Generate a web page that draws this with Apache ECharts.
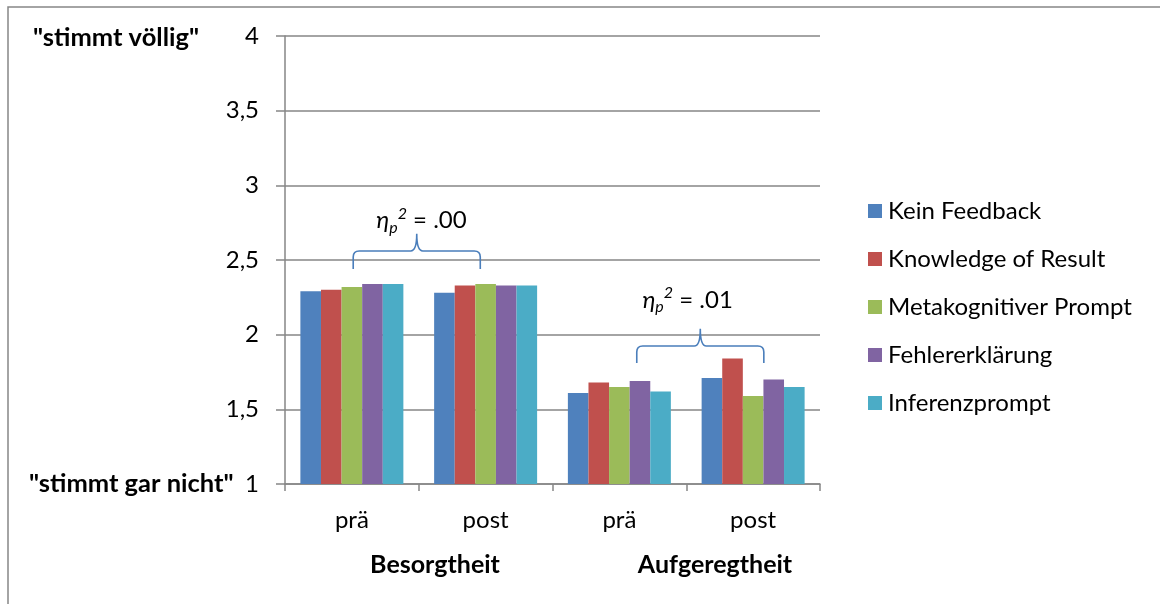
<!DOCTYPE html>
<html>
<head>
<meta charset="utf-8">
<script src="https://cdn.jsdelivr.net/npm/echarts@6/dist/echarts.min.js"></script>
<style>
  html, body { margin: 0; padding: 0; background: #fff; }
  #chart { width: 1160px; height: 604px; }
</style>
</head>
<body>
<div id="chart"></div>
<script>
// Time points within each scale, and the two scales they belong to
const categories = ['prä', 'post', 'prä', 'post'];
const groupNames = ['Besorgtheit', 'Aufgeregtheit'];

// Feedback conditions
const seriesNames = ['Kein Feedback', 'Knowledge of Result', 'Metakognitiver Prompt', 'Fehlererklärung', 'Inferenzprompt'];

// Mean ratings per condition (Besorgtheit prä, post, Aufgeregtheit prä, post)
const keinFeedback         = [2.29, 2.28, 1.61, 1.71];
const knowledgeOfResult    = [2.30, 2.33, 1.68, 1.84];
const metakognitiverPrompt = [2.32, 2.34, 1.65, 1.59];
const fehlererklaerung     = [2.34, 2.33, 1.69, 1.70];
const inferenzprompt       = [2.34, 2.33, 1.62, 1.65];

// Rating scale
const yMin = 1, yMax = 4, yStep = 0.5;
const scaleTop = '"stimmt völlig"';
const scaleBottom = '"stimmt gar nicht"';

// Effect-size braces (x in category units, y in rating units)
const braceFrom   = [0.01, 2.13];
const braceTo     = [0.96, 3.08];
const braceEnd    = [2.44, 1.81];
const braceBar    = [2.56, 1.924];
const braceTip    = [2.675, 2.04];
const braceLabelX = [0.52, 2.51];
const braceLabelY = [2.765, 2.23];
const effectSizes = ['.00', '.01'];

const colors = ['#4F81BD', '#C0504D', '#9BBB59', '#8064A2', '#4BACC6'];
const seriesValues = [keinFeedback, knowledgeOfResult, metakognitiverPrompt, fehlererklaerung, inferenzprompt];
const FONT = 'Lato';
const AXIS_GREY = '#868686';

const chart = echarts.init(document.getElementById('chart'), null, { renderer: 'canvas' });

const barSeries = seriesNames.map((name, i) => ({
  name,
  type: 'bar',
  data: seriesValues[i],
  barGap: '0%',
  barCategoryGap: '23%',
  itemStyle: { color: colors[i] },
  emphasis: { disabled: true }
}));

const braceData = braceFrom.map((f, i) => [f, braceTo[i], braceEnd[i], braceBar[i], braceTip[i], braceLabelX[i], braceLabelY[i], i]);

const braceSeries = {
  type: 'custom',
  name: 'braces',
  silent: true,
  clip: false,
  z: 5,
  data: braceData,
  renderItem(params, api) {
    const band = api.size([1, 0])[0];
    // fractional category position -> pixel x
    const px = v => {
      const k = Math.floor(v);
      return api.coord([k, yMin])[0] + (v - k) * band;
    };
    const py = v => api.coord([0, v])[1];
    const x0 = px(api.value(0)), x1 = px(api.value(1));
    const yEnd = py(api.value(2)), yBar = py(api.value(3)), yTip = py(api.value(4));
    const xl = px(api.value(5)), yl = py(api.value(6));
    const idx = api.value(7);
    const xm = (x0 + x1) / 2;
    const r = 6;
    const path =
      `M${x0},${yEnd} L${x0},${yBar + r} Q${x0},${yBar} ${x0 + r},${yBar} ` +
      `L${xm - r},${yBar} Q${xm},${yBar} ${xm},${yTip} ` +
      `Q${xm},${yBar} ${xm + r},${yBar} L${x1 - r},${yBar} ` +
      `Q${x1},${yBar} ${x1},${yBar + r} L${x1},${yEnd}`;
    return {
      type: 'group',
      children: [
        {
          type: 'path',
          shape: { pathData: path },
          style: { stroke: '#4A7EBB', lineWidth: 1.6, fill: null }
        },
        {
          type: 'text',
          style: {
            x: xl, y: yl,
            align: 'center', verticalAlign: 'middle',
            text: `{e|η}{s|p}{u|2}{n| = ${effectSizes[idx]}}`,
            rich: {
              e: { fontFamily: FONT, fontStyle: 'italic', fontSize: 24, lineHeight: 30, verticalAlign: 'middle', fill: '#000' },
              s: { fontFamily: FONT, fontStyle: 'italic', fontSize: 16, lineHeight: 15, verticalAlign: 'bottom', fill: '#000' },
              u: { fontFamily: FONT, fontStyle: 'italic', fontSize: 16, lineHeight: 15, verticalAlign: 'top', fill: '#000' },
              n: { fontFamily: FONT, fontSize: 24, lineHeight: 30, verticalAlign: 'middle', fill: '#000' }
            }
          }
        }
      ]
    };
  }
};

chart.setOption({
  animation: false,
  backgroundColor: '#fff',
  textStyle: { fontFamily: FONT },
  grid: { left: 285, right: 340, top: 36, bottom: 120, containLabel: false },
  legend: {
    data: seriesNames,
    orient: 'vertical',
    left: 863,
    top: 194,
    itemWidth: 14,
    itemHeight: 14,
    itemGap: 24,
    icon: 'rect',
    selectedMode: false,
    textStyle: { fontFamily: FONT, fontSize: 24, lineHeight: 24, color: '#000', padding: [0, 0, 0, 1] }
  },
  xAxis: {
    type: 'category',
    data: categories,
    axisLine: { lineStyle: { color: AXIS_GREY, width: 1.5 } },
    axisTick: { show: true, length: 7, lineStyle: { color: AXIS_GREY, width: 1.5 } },
    axisLabel: { color: '#000', fontSize: 24, fontFamily: FONT, margin: 24 }
  },
  yAxis: {
    type: 'value',
    min: yMin, max: yMax, interval: yStep,
    axisLine: { show: true, lineStyle: { color: AXIS_GREY, width: 1.5 } },
    axisTick: { show: true, inside: false, length: 9, lineStyle: { color: AXIS_GREY, width: 1.5 } },
    splitLine: { lineStyle: { color: AXIS_GREY, width: 1.5 } },
    axisLabel: {
      color: '#000', fontSize: 24, fontFamily: FONT, margin: 26,
      formatter: v => String(v).replace('.', ',')
    }
  },
  series: [...barSeries, braceSeries]
});

// Scale-end labels and the scale names under the time points
const yTopPx = chart.convertToPixel({ yAxisIndex: 0 }, yMax);
const yBotPx = chart.convertToPixel({ yAxisIndex: 0 }, yMin);
const groupCenters = [435, 715];
chart.setOption({
  graphic: [
    {
      type: 'rect', silent: true, z: -1,
      shape: { x: 8, y: 7, width: 1300, height: 800 },
      style: { fill: null, stroke: AXIS_GREY, lineWidth: 1.5 }
    },
    {
      type: 'text', x: 33, y: yTopPx + 2,
      style: { text: scaleTop, font: `bold 25.5px ${FONT}`, fill: '#000', verticalAlign: 'middle' }
    },
    {
      type: 'text', x: 29, y: yBotPx,
      style: { text: scaleBottom, font: `bold 25.5px ${FONT}`, fill: '#000', verticalAlign: 'middle' }
    },
    ...groupNames.map((g, i) => ({
      type: 'text', x: groupCenters[i], y: 565,
      style: { text: g, font: `bold 25px ${FONT}`, fill: '#000', align: 'center', verticalAlign: 'middle' }
    }))
  ]
});
</script>
</body>
</html>
